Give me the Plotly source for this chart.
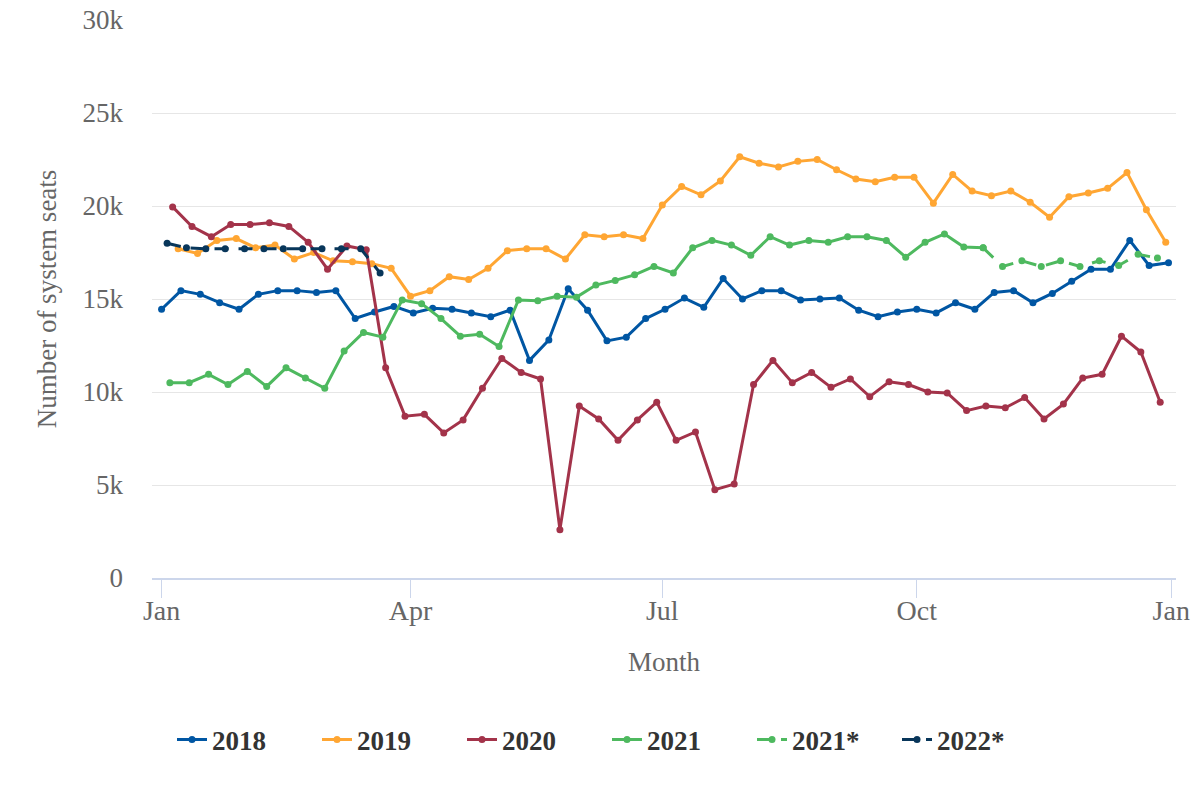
import pandas as pd
import plotly.graph_objects as go

# ---- data (weekly system seats) ----
vals_2018 = [14450, 15450, 15250, 14800, 14450, 15250, 15450, 15450, 15350, 15450,
             13950, 14300, 14600, 14250, 14500, 14450, 14250, 14050, 14400, 11700,
             12800, 15550, 14400, 12750, 12950, 13950, 14450, 15050, 14550, 16100,
             15000, 15450, 15450, 14950, 15000, 15050, 14400, 14050, 14300, 14450,
             14250, 14800, 14450, 15350, 15450, 14800, 15300, 15950, 16600, 16600,
             18150, 16800, 16950]
vals_2019 = [17700, 17450, 18150, 18250, 17750, 17900, 17150, 17500, 17050, 17000,
             16900, 16650, 15150, 15450, 16200, 16050, 16650, 17600, 17700, 17700,
             17150, 18450, 18350, 18450, 18250, 20050, 21050, 20600, 21350, 22650,
             22300, 22100, 22400, 22500, 21950, 21450, 21300, 21550, 21550, 20150,
             21700, 20800, 20550, 20800, 20200, 19400, 20500, 20700, 20950, 21800,
             19800, 18050]
vals_2020 = [19950, 18900, 18350, 19000, 19000, 19100, 18900, 18050, 16600, 17850,
             17650, 11300, 8700, 8800, 7800, 8500, 10200, 11800, 11050, 10700,
             2600, 9250, 8550, 7400, 8500, 9450, 7400, 7850, 4750, 5050,
             10400, 11700, 10500, 11050, 10250, 10700, 9750, 10550, 10400, 10000,
             9950, 9000, 9250, 9150, 9700, 8550, 9350, 10750, 10950, 13000,
             12150, 9450]
vals_2021 = [10500, 10500, 10950, 10400, 11100, 10300, 11300, 10750, 10200, 12200,
             13200, 12950, 14950, 14750, 13950, 13000, 13100, 12450, 14950, 14900,
             15150, 15100, 15750, 16000, 16300, 16750, 16400, 17750, 18150, 17900,
             17350, 18350, 17900, 18150, 18050, 18350, 18350, 18150, 17250, 18050,
             18500, 17800, 17750]
vals_2021_proj = [16750, 17050, 16750, 17050, 16750, 17050, 16800, 17400, 17200]
vals_2022_proj = [18000, 17750, 17700, 17700, 17700, 17700, 17700, 17700, 17700,
                  17700, 17700, 16400]

# first week of each series (actual date)
start_2018 = "2018-01-01"
start_2019 = "2019-01-07"
start_2020 = "2020-01-05"
start_2021 = "2021-01-04"
start_2022 = "2022-01-03"

BASE_YEAR = 2018

y_tickvals = [0, 5000, 10000, 15000, 20000, 25000, 30000]
y_ticktext = ["0", "5k", "10k", "15k", "20k", "25k", "30k"]
x_tickdates = ["2018-01-01", "2018-04-01", "2018-07-01", "2018-10-01", "2019-01-01"]
x_ticktext = ["Jan", "Apr", "Jul", "Oct", "Jan"]

colors = {"2018": "#0056a3", "2019": "#ffa633", "2020": "#a3334a",
          "2021": "#4eb95f", "2022": "#08365a"}


def weekly_dates(start, n, offset=0):
    s = pd.Timestamp(start)
    base = pd.Timestamp(f"{BASE_YEAR}-01-01") + (s - pd.Timestamp(f"{s.year}-01-01"))
    return [base + pd.Timedelta(days=7 * (i + offset)) for i in range(n)]


FONT = "Liberation Serif"
fig = go.Figure()


def add(name, x, y, color, dash="solid"):
    fig.add_trace(go.Scatter(
        x=x, y=y, name=name, mode="lines+markers",
        line=dict(color=color, width=3, dash=dash),
        marker=dict(color=color, size=7),
    ))


DASH = "14px,10px"
add("2018", weekly_dates(start_2018, len(vals_2018)), vals_2018, colors["2018"])
add("2019", weekly_dates(start_2019, len(vals_2019)), vals_2019, colors["2019"])
add("2020", weekly_dates(start_2020, len(vals_2020)), vals_2020, colors["2020"])
add("2021", weekly_dates(start_2021, len(vals_2021)), vals_2021, colors["2021"])
proj21 = [vals_2021[-1]] + vals_2021_proj
add("2021*", weekly_dates(start_2021, len(proj21), offset=len(vals_2021) - 1), proj21,
    colors["2021"], DASH)
add("2022*", weekly_dates(start_2022, len(vals_2022_proj)), vals_2022_proj,
    colors["2022"], DASH)

fig.update_layout(
    width=1200, height=800,
    paper_bgcolor="white", plot_bgcolor="white",
    margin=dict(l=152, r=24, t=20, b=222, autoexpand=False),
    font=dict(family=FONT, color="#666666", size=27),
    showlegend=True,
    legend=dict(
        orientation="h", xref="container", yref="container",
        x=172 / 1200, xanchor="left", y=1 - 740 / 800, yanchor="middle",
        font=dict(family=FONT, size=27, color="#333333", weight="bold"),
        entrywidth=100, entrywidthmode="pixels",
        bgcolor="rgba(0,0,0,0)",
    ),
    xaxis=dict(
        type="date", automargin=False,
        range=["2017-12-28 13:00", "2019-01-02 17:00"],
        tickvals=[pd.Timestamp(d) for d in x_tickdates], ticktext=x_ticktext,
        showgrid=False, zeroline=False,
        showline=True, linecolor="#ccd6eb", linewidth=2,
        ticks="outside", ticklen=18, tickcolor="#ccd6eb", tickwidth=1,
        ticklabelstandoff=-12, ticklabeloverflow="allow",
        tickfont=dict(family=FONT, size=28, color="#666666"),
        title=dict(text="Month", font=dict(family=FONT, size=27, color="#666666"), standoff=28),
    ),
    yaxis=dict(
        range=[0, 30000], automargin=False,
        tickvals=y_tickvals, ticktext=y_ticktext,
        showgrid=True, gridcolor="#e6e6e6", gridwidth=1,
        zeroline=False, showline=False, ticks="",
        ticklabelstandoff=28, ticklabeloverflow="allow",
        tickfont=dict(family=FONT, size=27, color="#666666"),
        title=dict(text="Number of system seats", font=dict(family=FONT, size=27, color="#666666"), standoff=18),
    ),
)

# remove the default page margin so the figure sits at the window's top-left corner
fig.write_html("out.html", config={"displayModeBar": False},
               post_script="document.body.style.margin='0px';")
